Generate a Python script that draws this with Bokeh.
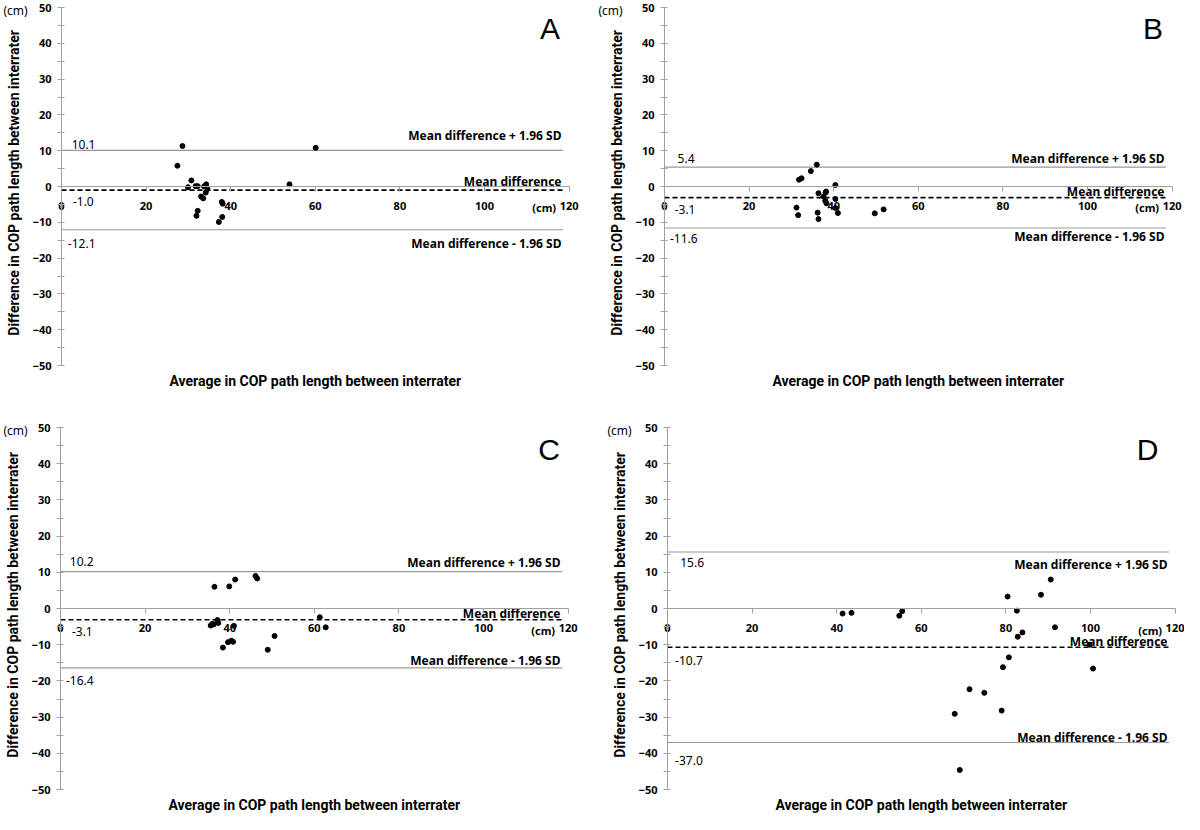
import math
from bokeh.plotting import figure
from bokeh.models import Range1d, LinearAxis, FixedTicker
from bokeh.layouts import column, row
from bokeh.embed import file_html
from bokeh.resources import INLINE
from bokeh.core.properties import value

# ---------------- data ----------------
X_TITLE = "Average in COP path length between interrater"
Y_TITLE = "Difference in COP path length between interrater"
X_TICKS = [0, 20, 40, 60, 80, 100, 120]
Y_TICKS = [-50, -40, -30, -20, -10, 0, 10, 20, 30, 40, 50]
Y_MINOR = [-45, -35, -25, -15, -5, 5, 15, 25, 35, 45]
LIMIT_NAMES = ["Mean difference + 1.96 SD", "Mean difference", "Mean difference - 1.96 SD"]
UNIT = "(cm)"

A_avg = [28.6, 27.4, 30.7, 29.9, 31.7, 32.2, 33.7, 34.2, 34.5, 34.1, 33.0, 33.5,
         32.2, 31.9, 37.9, 38.1, 38.0, 37.2, 53.9, 60.1]
A_diff = [11.3, 5.8, 1.7, -0.2, 0.1, 0.1, 0.0, 0.6, -0.7, -1.7, -2.8, -3.3,
          -6.8, -8.2, -4.3, -4.8, -8.5, -9.9, 0.6, 10.8]
A_limits = [10.1, -1.0, -12.1]

B_avg = [36.0, 34.6, 31.8, 32.4, 40.4, 36.4, 38.2, 38.1, 37.6, 38.0, 38.3, 40.4,
         40.4, 41.0, 31.2, 31.6, 36.2, 36.4, 49.7, 51.8]
B_diff = [6.1, 4.3, 1.9, 2.3, 0.4, -1.9, -1.4, -1.7, -2.8, -4.0, -4.7, -3.5,
          -6.0, -7.4, -5.9, -8.0, -7.3, -9.1, -7.5, -6.4]
B_limits = [5.4, -3.1, -11.6]

C_avg = [36.4, 39.9, 41.3, 46.1, 46.5, 37.1, 37.3, 35.9, 35.5, 36.2, 41.0, 38.4,
         39.6, 40.4, 40.8, 49.0, 50.6, 61.3, 62.7]
C_diff = [6.0, 6.1, 8.0, 9.0, 8.3, -3.2, -4.0, -4.2, -4.7, -4.4, -4.8, -10.8,
          -9.3, -8.9, -9.2, -11.4, -7.6, -2.4, -5.2]
C_limits = [10.2, -3.1, -16.4]

D_avg = [41.4, 43.5, 54.8, 55.5, 80.4, 82.6, 88.3, 90.6, 91.6, 82.8, 83.9, 99.8,
         80.7, 79.3, 100.6, 71.4, 74.9, 67.9, 79.0, 69.1]
D_diff = [-1.4, -1.2, -2.0, -0.7, 3.3, -0.6, 3.8, 8.0, -5.2, -7.8, -6.6, -10.0,
          -13.5, -16.2, -16.6, -22.3, -23.3, -29.1, -28.2, -44.6]
D_limits = [15.6, -10.7, -37.0]

# ---------------- layout / style ----------------
FONT = "Noto Sans"
TITLE_FONT = "Roboto"
AXIS_COLOR = "#a0a0a0"
FIG_W = 592
PX_PER_X = 4.23          # horizontal pixels per data unit
LINE_END = 118.5
TEXT_RIGHT = 118.2
X_TITLE_CENTER = 60.0
X_TITLE_GAP_PX = 15      # x title centre below the -50 level
Y_TITLE_DX_PX = -48      # y title centre left of the y axis
Y_TITLE_Y = 1.0

LAYOUT = {
    "A": dict(height=398, x0=61, ytop=7, ybot=365, unit_px=15,
              val_x=[2.4, 2.7, 1.5], val_dy=[1.6, -3.3, -3.7], txt_dy=[4.1, 2.45, -3.7],
              letter_x=115.5),
    "B": dict(height=398, x0=72, ytop=7, ybot=365, unit_px=18,
              val_x=[3.1, 2.4, 1.3], val_dy=[2.3, -3.4, -2.8], txt_dy=[2.5, 1.75, -2.5],
              letter_x=115.5),
    "C": dict(height=416, x0=60, ytop=29, ybot=391, unit_px=15,
              val_x=[2.2, 2.7, 1.3], val_dy=[2.7, -3.2, -3.4], txt_dy=[2.4, 1.8, 2.1],
              letter_x=115.5),
    "D": dict(height=416, x0=75, ytop=29, ybot=391, unit_px=27,
              val_x=[3.0, 1.8, 1.8], val_dy=[-2.9, -3.7, -4.9], txt_dy=[-3.4, 1.7, 1.5],
              letter_x=113.5),
}


def make_panel(letter, avg, diff, limits):
    c = LAYOUT[letter]
    sy = (c["ybot"] - c["ytop"]) / 100.0
    x_rng = Range1d(-c["x0"] / PX_PER_X, (FIG_W - c["x0"]) / PX_PER_X)
    y_rng = Range1d(-50 - (c["height"] - c["ybot"]) / sy, 50 + c["ytop"] / sy)

    p = figure(width=FIG_W, height=c["height"], x_range=x_rng, y_range=y_rng,
               x_axis_type=None, y_axis_type=None,
               output_backend="svg", toolbar_location=None,
               min_border_left=0, min_border_right=0,
               min_border_top=0, min_border_bottom=0)
    p.outline_line_color = None
    p.background_fill_color = "white"

    # y axis at x = 0
    ya = LinearAxis(fixed_location=0, bounds=(-50, 50),
                    ticker=FixedTicker(ticks=Y_TICKS, minor_ticks=Y_MINOR),
                    axis_line_color=AXIS_COLOR, major_tick_line_color=AXIS_COLOR,
                    minor_tick_line_color=AXIS_COLOR,
                    major_tick_in=3, major_tick_out=4, minor_tick_in=3, minor_tick_out=4,
                    major_label_standoff=6,
                    major_label_text_font=FONT, major_label_text_font_style="bold",
                    major_label_text_font_size="11px", major_label_text_color="black")
    p.add_layout(ya, "left")

    # x axis crossing at y = 0
    xa = LinearAxis(fixed_location=0, bounds=(0, 120),
                    ticker=FixedTicker(ticks=X_TICKS, minor_ticks=[]),
                    axis_line_color=AXIS_COLOR, major_tick_line_color=AXIS_COLOR,
                    major_tick_in=0, major_tick_out=5, minor_tick_line_color=None,
                    major_label_standoff=10,
                    major_label_text_font=FONT, major_label_text_font_style="bold",
                    major_label_text_font_size="11px", major_label_text_color="black")
    p.add_layout(xa, "below")

    # axis titles
    p.text(x=[X_TITLE_CENTER], y=[-50 - X_TITLE_GAP_PX / sy], text=[X_TITLE],
           text_align="center", text_baseline="middle", text_font=value(TITLE_FONT),
           text_font_style="bold", text_font_size="14px", text_color="black")
    p.text(x=[Y_TITLE_DX_PX / PX_PER_X], y=[Y_TITLE_Y], text=[Y_TITLE], angle=math.pi / 2,
           text_align="center", text_baseline="middle", text_font=value(TITLE_FONT),
           text_font_style="bold", text_font_size="14px", text_color="black")

    # limit lines
    up, mean, lo = limits
    for v, dash, w, col in [(up, "1 1", 1.1, "#303030"), (lo, "1 1", 1.1, "#303030"),
                            (mean, "5 3", 1.6, "black")]:
        p.segment(x0=[0], y0=[v], x1=[LINE_END], y1=[v], line_color=col,
                  line_width=w, line_dash=dash)

    # points
    p.scatter(avg, diff, size=5, color="black")

    # limit texts
    p.text(x=[TEXT_RIGHT] * 3, y=[v + d for v, d in zip(limits, c["txt_dy"])],
           text=LIMIT_NAMES, text_align="right", text_baseline="middle",
           text_font=value(FONT), text_font_style="bold", text_font_size="12px",
           text_color="black")
    p.text(x=c["val_x"], y=[v + d for v, d in zip(limits, c["val_dy"])],
           text=[f"{v:.1f}" for v in limits], text_align="left", text_baseline="middle",
           text_font=value(FONT), text_font_size="12px", text_color="black")

    # panel letter
    p.text(x=[c["letter_x"]], y=[44], text=[letter], text_align="center",
           text_baseline="middle", text_font=value("Liberation Sans"),
           text_font_size="30px", text_color="black")

    # units
    p.text(x=[120], y=[-6.0], text=[UNIT], x_offset=-13, text_align="right",
           text_baseline="middle", text_font=value(FONT), text_font_style="bold",
           text_font_size="11px", text_color="black")
    p.text(x=[(c["unit_px"] - c["x0"]) / PX_PER_X], y=[49.3], text=[UNIT],
           text_align="center", text_baseline="middle", text_font=value(FONT),
           text_font_size="12px", text_color="black")
    return p


pA = make_panel("A", A_avg, A_diff, A_limits)
pB = make_panel("B", B_avg, B_diff, B_limits)
pC = make_panel("C", C_avg, C_diff, C_limits)
pD = make_panel("D", D_avg, D_diff, D_limits)

layout = column(row(pA, pB), row(pC, pD))
open("out.html", "w").write(file_html(layout, INLINE))
